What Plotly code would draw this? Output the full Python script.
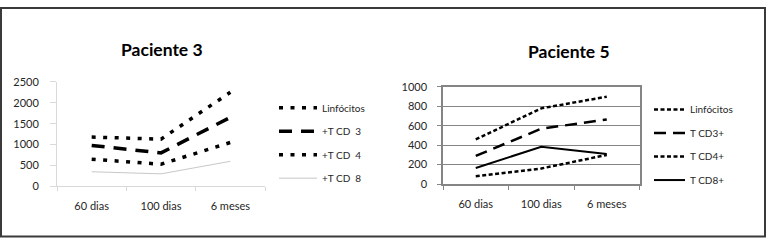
import plotly.graph_objects as go

W, H = 768, 244

categories = ["60 dias", "100 dias", "6 meses"]

# Paciente 3
p3_names = ["Linfócitos", "+T CD  3", "+T CD  4", "+T CD  8"]
p3_linfocitos = [1180, 1130, 2250]
p3_cd3 = [980, 800, 1650]
p3_cd4 = [650, 530, 1050]
p3_cd8 = [350, 300, 600]
p3_yticks = [0, 500, 1000, 1500, 2000, 2500]

# Paciente 5
p5_names = ["Linfócitos", "T CD3+", "T CD4+", "T CD8+"]
p5_linfocitos = [460, 780, 900]
p5_cd3 = [290, 570, 665]
p5_cd4 = [80, 160, 300]
p5_cd8 = [165, 385, 310]
p5_yticks = [0, 200, 400, 600, 800, 1000]

FONT = "Lato"
TXT = "#262626"

fig = go.Figure()

p3_styles = [
    dict(color="black", width=3.5, dash="4px,7.5px"),
    dict(color="black", width=3.5, dash="13px,9px"),
    dict(color="black", width=3.5, dash="4px,7.5px"),
    dict(color="#c8c8c8", width=1),
]
for i, (name, vals) in enumerate(zip(p3_names, [p3_linfocitos, p3_cd3, p3_cd4, p3_cd8])):
    fig.add_trace(go.Scatter(
        x=categories, y=vals, name=name, mode="lines", line=p3_styles[i],
        xaxis="x", yaxis="y", legend="legend", legendgroup="a%d" % i,
        hoverinfo="skip"))

p5_styles = [
    dict(color="black", width=2.5, dash="4px,2.5px"),
    dict(color="black", width=2.5, dash="12px,7px"),
    dict(color="black", width=2.5, dash="4px,2.5px"),
    dict(color="black", width=2),
]
for i, (name, vals) in enumerate(zip(p5_names, [p5_linfocitos, p5_cd3, p5_cd4, p5_cd8])):
    fig.add_trace(go.Scatter(
        x=categories, y=vals, name=name, mode="lines", line=p5_styles[i],
        xaxis="x2", yaxis="y2", legend="legend2", legendgroup="b%d" % i,
        hoverinfo="skip"))

tickfont = dict(family=FONT, size=11, color=TXT)
light = "#d9d9d9"
mid = "#858585"

fig.update_layout(
    width=W, height=H,
    margin=dict(l=0, r=0, t=0, b=0),
    paper_bgcolor="white", plot_bgcolor="white",
    font=dict(family=FONT, color=TXT),
    xaxis=dict(domain=[57 / W, 265 / W], anchor="y", type="category",
               range=[-0.5, 2.5], tickson="boundaries", ticks="outside",
               ticklen=4, tickcolor=light, showline=True, linecolor=light,
               showgrid=False, tickfont=tickfont, ticklabelstandoff=9),
    yaxis=dict(domain=[1 - 189.5 / H, 1 - 79 / H], anchor="x", range=[0, 2500],
               tickvals=p3_yticks, ticks="outside", ticklen=6, tickcolor=light,
               showline=True, linecolor=light, showgrid=False, zeroline=False,
               tickfont=tickfont, ticklabelstandoff=9),
    xaxis2=dict(domain=[443 / W, 639.5 / W], anchor="y2", type="category",
                range=[-0.5, 2.5], tickson="boundaries", ticks="outside",
                ticklen=4, tickcolor=mid, showline=True, mirror=True,
                linecolor=mid, linewidth=1.5, showgrid=False, tickfont=tickfont,
                ticklabelstandoff=9),
    yaxis2=dict(domain=[1 - 187 / H, 1 - 84.5 / H], anchor="x2", range=[0, 1000],
                tickvals=p5_yticks, ticks="outside", ticklen=4, tickcolor=mid,
                showline=True, mirror=True, linecolor=mid, linewidth=1.5,
                showgrid=True, gridcolor=mid, gridwidth=1.3, zeroline=False,
                tickfont=tickfont, ticklabelstandoff=8),
    legend=dict(x=274 / W, xanchor="left", y=1 - 91 / H, yanchor="top",
                font=dict(family=FONT, size=10, color=TXT),
                bgcolor="rgba(0,0,0,0)", tracegroupgap=4.5, itemwidth=38),
    legend2=dict(x=649 / W, xanchor="left", y=1 - 93 / H, yanchor="top",
                 font=dict(family=FONT, size=10, color=TXT),
                 bgcolor="rgba(0,0,0,0)", tracegroupgap=4.5, itemwidth=31),
    annotations=[
        dict(text="<b>Paciente 3</b>", x=162 / W, y=1 - 45 / H, xref="paper",
             yref="paper", showarrow=False, xanchor="center", yanchor="middle",
             font=dict(family=FONT, size=17.5, color="black")),
        dict(text="<b>Paciente 5</b>", x=569 / W, y=1 - 47 / H, xref="paper",
             yref="paper", showarrow=False, xanchor="center", yanchor="middle",
             font=dict(family=FONT, size=17.5, color="black")),
    ],
    shapes=[
        dict(type="rect", xref="paper", yref="paper", x0=1 / W, x1=765 / W,
             y0=1 - 242.5 / H, y1=1 - 1 / H, line=dict(color="#3a3a3a", width=2)),
    ],
    showlegend=True,
)

fig.write_html("out.html")
